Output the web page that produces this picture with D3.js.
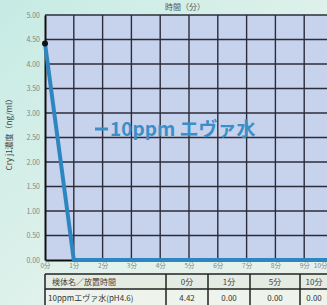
<!DOCTYPE html>
<html lang="ja">
<head>
<meta charset="UTF-8" />
<title>Cry j1</title>
<script src="https://d3js.org/d3.v7.min.js"></script>
<style>
  html, body { margin: 0; padding: 0; }
  body { width: 327px; height: 305px; overflow: hidden; }
  text { font-family: "Noto Sans CJK JP", "Noto Sans", sans-serif; }
</style>
</head>
<body>
<script>
// datos del grafico
var times = [0, 1, 5, 10];            // minutos
var values = [4.42, 0.00, 0.00, 0.00]; // ng/ml
var colLabels = ["0分", "1分", "5分", "10分"];
var rowName = "10ppmエヴァ水(pH4.6)";
var headName = "検体名／放置時間";
var seriesName = "10ppm エヴァ水";
var xTicks = [0, 1, 2, 3, 4, 5, 6, 7, 8, 9, 10];
var yTicks = [0, 0.5, 1, 1.5, 2, 2.5, 3, 3.5, 4, 4.5, 5];

var W = 327, H = 305;

var svg = d3.select("body").append("svg")
  .attr("width", W).attr("height", H);

// fondo
var defs = svg.append("defs");
var grad = defs.append("linearGradient").attr("id", "bg")
  .attr("x1", 0).attr("y1", 0).attr("x2", 1).attr("y2", 1);
grad.append("stop").attr("offset", "0%").attr("stop-color", "#c6ebe4");
grad.append("stop").attr("offset", "60%").attr("stop-color", "#e2f2ec");
grad.append("stop").attr("offset", "100%").attr("stop-color", "#e8f1ea");
svg.append("rect").attr("width", W).attr("height", H).attr("fill", "url(#bg)");

var x = d3.scaleLinear().domain([0, 10]).range([45, 333]);
var y = d3.scaleLinear().domain([0, 5]).range([260, 15]);

// area del grafico
svg.append("rect")
  .attr("x", x(0)).attr("y", y(5))
  .attr("width", x(10) - x(0)).attr("height", y(0) - y(5))
  .attr("fill", "#c7d2ec");

// rejilla
var grid = svg.append("g").attr("stroke", "#2b2d3a").attr("stroke-width", 1.4);
grid.selectAll("line.v").data(xTicks.slice(1)).enter().append("line")
  .attr("x1", d => x(d)).attr("x2", d => x(d))
  .attr("y1", y(5)).attr("y2", y(0));
grid.selectAll("line.h").data(yTicks.slice(1)).enter().append("line")
  .attr("x1", x(0)).attr("x2", x(10))
  .attr("y1", d => y(d)).attr("y2", d => y(d));

// ejes
var yAxis = d3.axisLeft(y).tickValues(yTicks).tickSize(0).tickPadding(5)
  .tickFormat(d3.format(".2f"));
var gy = svg.append("g").attr("transform", "translate(" + x(0) + ",0)").call(yAxis);
gy.select(".domain").attr("stroke", "#111").attr("stroke-width", 2);
gy.selectAll("text").attr("font-size", 7).attr("fill", "#80878a");

var xAxis = d3.axisBottom(x).tickValues(xTicks).tickSize(0).tickPadding(3)
  .tickFormat(d => d + "分");
var gx = svg.append("g").attr("transform", "translate(0," + y(0) + ")").call(xAxis);
gx.select(".domain").attr("stroke", "#111").attr("stroke-width", 2);
gx.selectAll("text").attr("font-size", 6.5).attr("fill", "#80878a");
// la ultima etiqueta queda en el borde: la alineamos a la derecha
gx.selectAll(".tick").filter(d => d === 10).select("text")
  .attr("text-anchor", "end").attr("dx", W - x(10));

// titulos
svg.append("text").attr("x", 185).attr("y", 10)
  .attr("text-anchor", "middle").attr("font-size", 8).attr("fill", "#555")
  .text("時間（分）");
svg.append("text")
  .attr("transform", "translate(12," + y(2.6) + ") rotate(-90)")
  .attr("text-anchor", "middle").attr("font-size", 8).attr("fill", "#444")
  .text("Cry j1濃度（ng/ml）");

// linea de la serie
var pts = times.map((t, i) => [t, values[i]]);
svg.append("path").datum(pts)
  .attr("fill", "none").attr("stroke", "#2e86c1").attr("stroke-width", 4)
  .attr("d", d3.line().x(d => x(d[0])).y(d => y(d[1])));
svg.append("circle")
  .attr("cx", x(times[0])).attr("cy", y(values[0])).attr("r", 3)
  .attr("fill", "#111");

// etiqueta de la serie
svg.append("line").attr("x1", 95).attr("x2", 108).attr("y1", 129).attr("y2", 129)
  .attr("stroke", "#3a8fc8").attr("stroke-width", 3);
svg.append("text").attr("x", 110).attr("y", 136)
  .attr("font-size", 19).attr("font-weight", "bold").attr("fill", "#3a8fc8")
  .text(seriesName);

// tabla
var colEdges = [45, 166, 208, 250, 300, 328];
var rowTop = 274, rowH = 15;
var tbl = svg.append("g");
tbl.append("rect").attr("x", 45).attr("y", rowTop).attr("width", 300).attr("height", 40)
  .attr("fill", "#eef3ec");
tbl.append("rect").attr("x", 45).attr("y", rowTop).attr("width", 300).attr("height", rowH)
  .attr("fill", "#e3ebe2");
var tl = tbl.append("g").attr("stroke", "#222").attr("stroke-width", 1.5);
[rowTop, rowTop + rowH].forEach(function (yy) {
  tl.append("line").attr("x1", 45).attr("x2", W).attr("y1", yy).attr("y2", yy);
});
tl.selectAll("line.c").data(colEdges.slice(0, 5)).enter().append("line")
  .attr("x1", d => d).attr("x2", d => d).attr("y1", rowTop).attr("y2", H);

tbl.append("text").attr("x", 52).attr("y", rowTop + 11)
  .attr("font-size", 8).attr("fill", "#444").text(headName);
tbl.append("text").attr("x", 48).attr("y", rowTop + rowH + 12)
  .attr("font-size", 8).attr("fill", "#333").text(rowName);
tbl.selectAll("text.h").data(colLabels).enter().append("text")
  .attr("x", (d, i) => (colEdges[i + 1] + colEdges[i + 2]) / 2)
  .attr("y", rowTop + 11).attr("text-anchor", "middle")
  .attr("font-size", 8).attr("fill", "#444").text(d => d);
tbl.selectAll("text.v").data(values).enter().append("text")
  .attr("x", (d, i) => (colEdges[i + 1] + colEdges[i + 2]) / 2)
  .attr("y", rowTop + rowH + 12).attr("text-anchor", "middle")
  .attr("font-size", 8).attr("fill", "#333").text(d => d3.format(".2f")(d));
</script>
</body>
</html>
